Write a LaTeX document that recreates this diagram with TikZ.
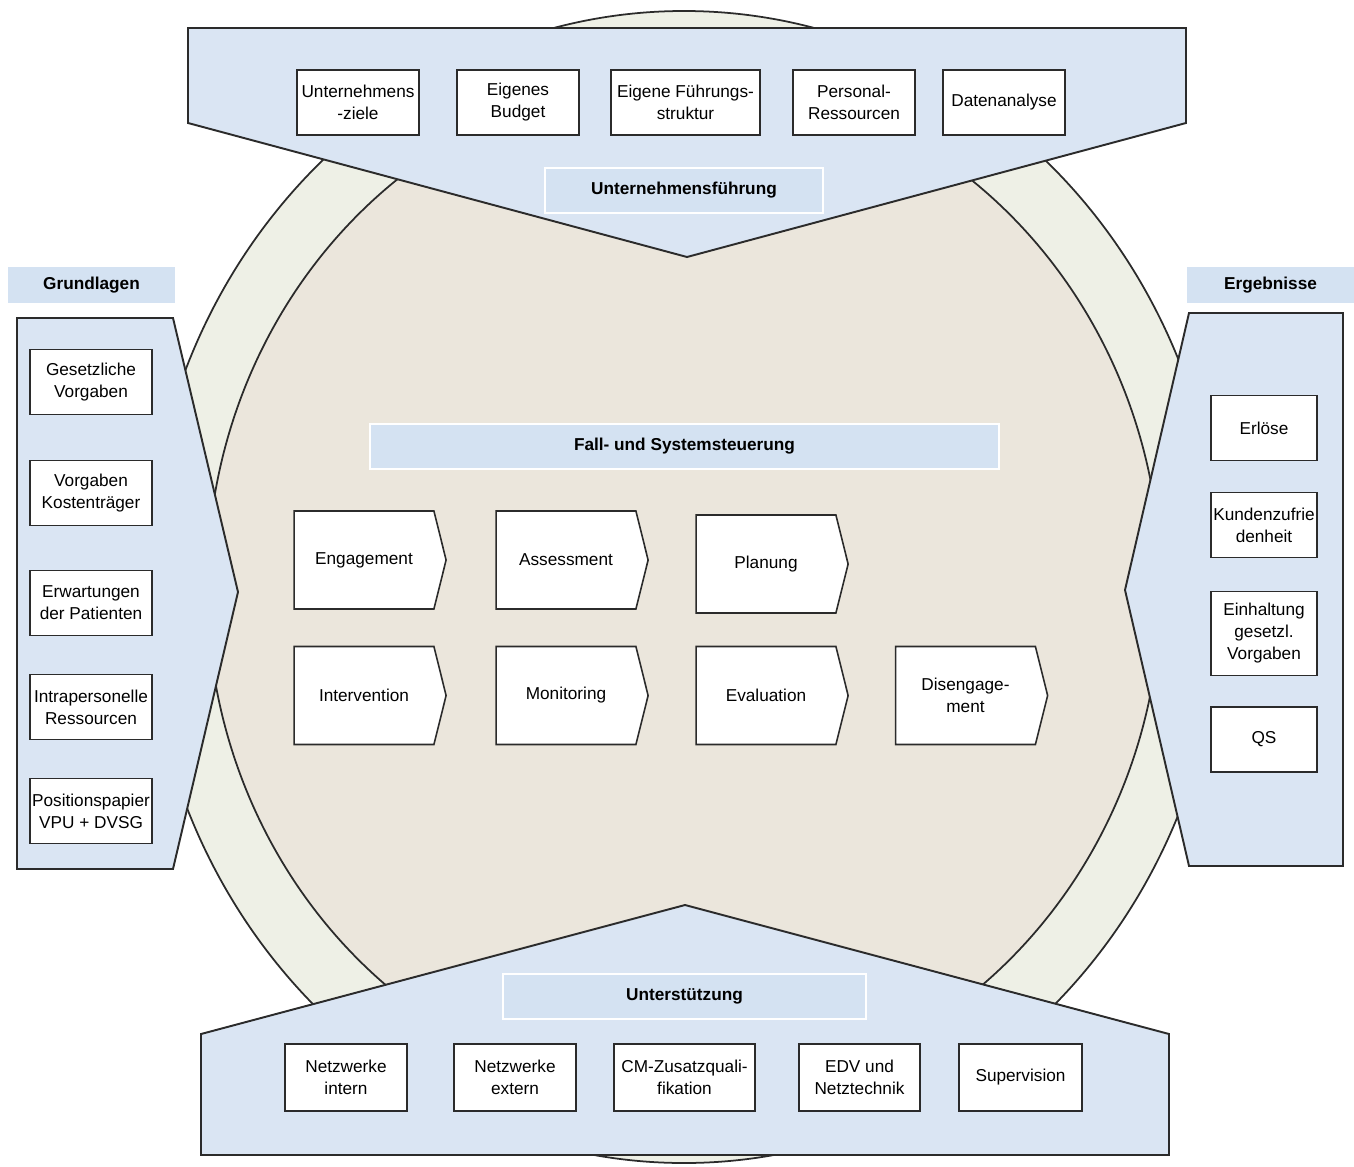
\documentclass[tikz,border=0pt]{standalone}
\usepackage{fontspec}
\setmainfont{Liberation Sans}
\usetikzlibrary{shapes.symbols}
\newlength{\pxu}
\setlength{\pxu}{0.02cm}
\definecolor{panelblau}{HTML}{DAE5F3}
\definecolor{kopfblau}{HTML}{D4E2F2}
\definecolor{ringgruen}{HTML}{EEF0E6}
\definecolor{kernbeige}{HTML}{EBE6DC}
\definecolor{linie}{HTML}{2B2B2B}
\begin{document}
\begin{tikzpicture}[x=0.02cm,y=-0.02cm,
	schrift/.style={font=\fontsize{9.8}{12.5}\selectfont},
	panel/.style={draw=linie,line width=1.1pt,fill=panelblau},
	kasten/.style={schrift,draw=linie,line width=0.9pt,fill=white,align=center,inner sep=1pt,minimum width=122\pxu,minimum height=65\pxu},
	kopf/.style={schrift,fill=kopfblau,inner sep=0pt,minimum width=167\pxu,minimum height=36\pxu,font=\fontsize{9.8}{12.5}\selectfont\bfseries},
	titel/.style={schrift,draw=white,line width=0.6pt,fill=kopfblau,inner sep=0pt,minimum height=45\pxu,font=\fontsize{9.8}{12.5}\selectfont\bfseries},
	schritt/.style={kasten,signal,signal to=east,signal pointer angle=152,minimum width=152\pxu,minimum height=98\pxu}]
	\useasboundingbox (0,0) rectangle (1354,1166);
	% Ringe
	\draw[linie,line width=1pt,fill=ringgruen] (684,587) ellipse [x radius=538\pxu,y radius=576\pxu];
	\draw[linie,line width=1pt,fill=kernbeige] (684,587) ellipse [x radius=477\pxu,y radius=510\pxu];
	
	% Unternehmensfuehrung (oben)
	\draw[panel] (188,28) -- (1186,28) -- (1186,123) -- (687,257) -- (188,123) -- cycle;
	\node[kasten] (ziele) at (358,102.5) {Unternehmens\\-ziele};
	\node[kasten] (budget) at (518,102.5) {Eigenes\\Budget};
	\node[kasten,minimum width=149\pxu] (struktur) at (685.5,102.5) {Eigene Führungs-\\struktur};
	\node[kasten] (personal) at (854,102.5) {Personal-\\Ressourcen};
	\node[kasten] (daten) at (1004,102.5) {Datenanalyse};
	\node[titel,minimum width=278\pxu] (fuehrung) at (684,190.5) {Unternehmensführung};
	
	% Grundlagen (links)
	\node[kopf] (grundlagen) at (91.5,285) {Grundlagen};
	\draw[panel] (17,318) -- (173,318) -- (238,592) -- (173,869) -- (17,869) -- cycle;
	\node[kasten] (gesetz) at (91,382) {Gesetzliche\\Vorgaben};
	\node[kasten] (kosten) at (91,493) {Vorgaben\\Kostenträger};
	\node[kasten] (erwart) at (91,603) {Erwartungen\\der Patienten};
	\node[kasten] (intra) at (91,707) {Intrapersonelle\\Ressourcen};
	\node[kasten] (papier) at (91,811) {Positionspapier\\VPU + DVSG};
	
	% Ergebnisse (rechts)
	\node[kopf] (ergebnisse) at (1270.5,285) {Ergebnisse};
	\draw[panel] (1189,313) -- (1343,313) -- (1343,866) -- (1189,866) -- (1125,590) -- cycle;
	\node[kasten,minimum width=106\pxu] (erloese) at (1264,428) {Erlöse};
	\node[kasten,minimum width=106\pxu] (kunden) at (1264,525) {Kundenzufrie\\denheit};
	\node[kasten,minimum width=106\pxu,minimum height=84\pxu] (einhalt) at (1264,633.5) {Einhaltung\\gesetzl.\\Vorgaben};
	\node[kasten,minimum width=106\pxu] (qs) at (1264,739.5) {QS};
	
	% Fall- und Systemsteuerung (Mitte)
	\node[titel,minimum width=629\pxu] (steuerung) at (684.5,446.5) {Fall- und Systemsteuerung};
	\node[schritt] (engagement) at (364,560) {Engagement};
	\node[schritt] (assessment) at (566,560) {Assessment};
	\node[schritt] (planung) at (766,564) {Planung};
	\node[schritt] (intervention) at (364,695.5) {Intervention};
	\node[schritt] (monitoring) at (566,695.5) {Monitoring};
	\node[schritt] (evaluation) at (766,695.5) {Evaluation};
	\node[schritt] (disengagement) at (965.5,695.5) {Disengage-\\ment};
	
	% Unterstuetzung (unten)
	\draw[panel] (201,1155) -- (201,1034) -- (685,905) -- (1169,1034) -- (1169,1155) -- cycle;
	\node[titel,minimum width=363\pxu] (unterstuetzung) at (684.5,996.5) {Unterstützung};
	\node[kasten,minimum height=67\pxu] (intern) at (346,1077.5) {Netzwerke\\intern};
	\node[kasten,minimum height=67\pxu] (extern) at (515,1077.5) {Netzwerke\\extern};
	\node[kasten,minimum height=67\pxu,minimum width=141\pxu] (cm) at (684.5,1077.5) {CM-Zusatzquali-\\fikation};
	\node[kasten,minimum height=67\pxu,minimum width=121\pxu] (edv) at (859.5,1077.5) {EDV und\\Netztechnik};
	\node[kasten,minimum height=67\pxu,minimum width=123\pxu] (supervision) at (1020.5,1077.5) {Supervision};
\end{tikzpicture}
\end{document}
